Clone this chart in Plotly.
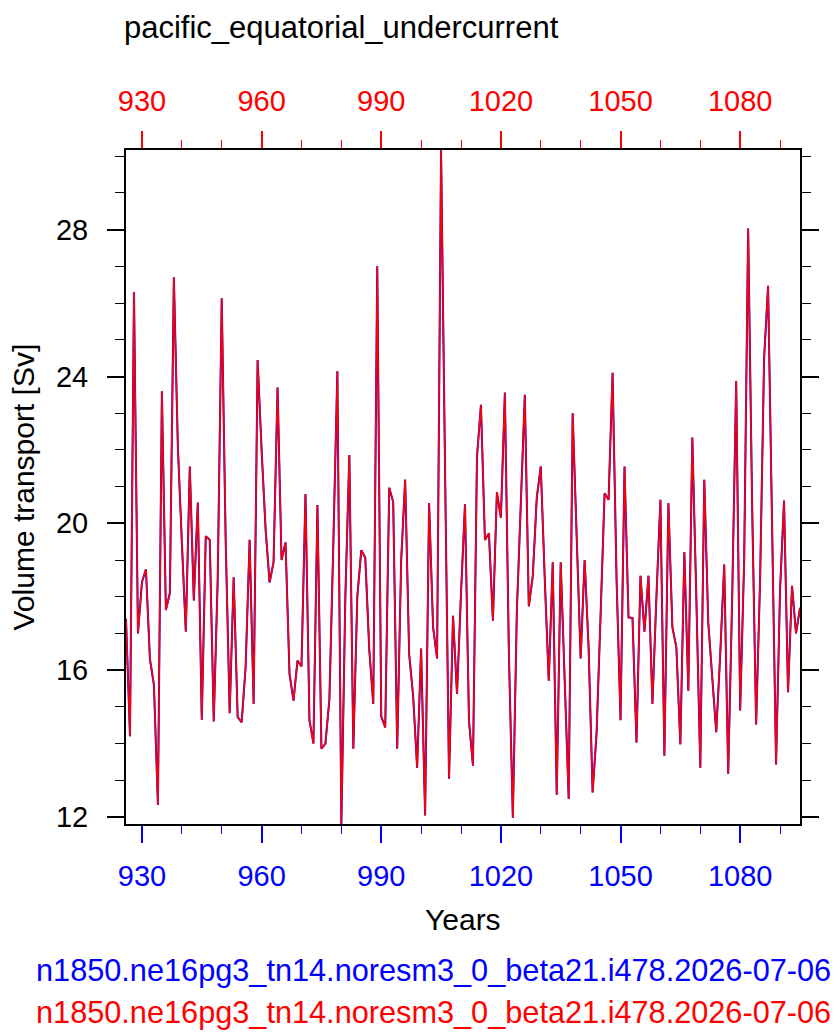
import plotly.graph_objects as go

# yearly volume transport
years = list(range(926, 1096))
volume_transport = [
    17.4, 14.2, 26.3, 17.0, 18.4, 18.75, 16.3, 15.6, 12.33, 23.6,
    17.64, 18.1, 26.7, 22.1, 19.5, 17.05, 21.55, 17.9, 20.57, 14.65,
    19.65, 19.55, 14.6, 18.5, 26.13, 19.5, 14.83, 18.53, 14.72, 14.58,
    16.1, 19.55, 15.08, 24.45, 22.0, 19.85, 18.39, 18.94, 23.7, 19.0,
    19.48, 15.9, 15.17, 16.26, 16.1, 20.8, 14.64, 14.0, 20.5, 13.86,
    14.0, 15.2, 19.5, 24.14, 11.81, 18.0, 21.86, 13.86, 18.0, 19.27,
    19.06, 16.56, 15.08, 27.0, 14.74, 14.44, 20.97, 20.58, 13.86, 19.0,
    21.19, 16.44, 15.29, 13.34, 16.59, 12.04, 20.55, 17.17, 16.32, 30.17,
    21.5, 13.04, 17.48, 15.35, 18.1, 20.52, 14.62, 13.4, 21.8, 23.23,
    19.55, 19.73, 17.35, 20.85, 20.15, 23.56, 16.5, 11.98, 17.6, 20.5,
    23.5, 17.74, 18.57, 20.7, 21.55, 18.5, 15.71, 18.94, 12.61, 18.94,
    15.4, 12.49, 23.0, 19.5, 16.32, 19.0, 16.6, 12.67, 14.3, 17.5,
    20.82, 20.64, 24.1, 18.5, 14.64, 21.55, 17.44, 17.42, 14.03, 18.57,
    17.05, 18.57, 15.08, 18.0, 20.64, 13.67, 20.55, 17.17, 16.62, 13.98,
    19.22, 15.44, 22.34, 18.0, 13.34, 21.19, 17.3, 15.8, 14.31, 16.44,
    18.88, 13.18, 18.0, 23.88, 14.9, 19.0, 28.03, 20.5, 14.52, 18.5,
    24.5, 26.47, 20.0, 13.43, 18.2, 20.62, 15.4, 18.3, 17.0, 17.7,
]
case_name = "n1850.ne16pg3_tn14.noresm3_0_beta21.i478.2026-07-06"
title = "pacific_equatorial_undercurrent"

# page body has an 8px margin, so the figure is a bit smaller than the window
W, H = 832, 1028
L, R, T, B = 118, 40, 142, 212
FONT = "Liberation Sans"


def py(ypx):
    # pixel row (figure coords) -> paper y
    return (H - B - ypx) / (H - T - B)


def px_(xpx):
    return (xpx - L) / (W - L - R)


fig = go.Figure()
fig.add_trace(go.Scatter(x=years, y=volume_transport, mode="lines",
                         line=dict(color="blue", width=2.0),
                         xaxis="x", yaxis="y", showlegend=False))
fig.add_trace(go.Scatter(x=years, y=volume_transport, mode="lines",
                         line=dict(color="red", width=1.6),
                         xaxis="x2", yaxis="y", showlegend=False))

xr = [926, 1095]
fig.update_layout(
    width=W, height=H,
    margin=dict(l=L, r=R, t=T, b=B),
    paper_bgcolor="white", plot_bgcolor="white",
    font=dict(family=FONT, color="black"),
    xaxis=dict(range=xr, tick0=930, dtick=30, ticks="outside", ticklen=17,
               tickwidth=1.5, tickcolor="blue", ticklabelstandoff=8,
               tickfont=dict(size=29, color="blue", family=FONT),
               minor=dict(dtick=10, tick0=930, ticks="outside", ticklen=8,
                          tickwidth=1.2, tickcolor="blue"),
               showline=True, linecolor="black", linewidth=2,
               showgrid=False, zeroline=False),
    xaxis2=dict(range=xr, overlaying="x", side="top", tick0=930, dtick=30,
                ticks="outside", ticklen=17, tickwidth=1.5, tickcolor="red",
                ticklabelstandoff=8,
                tickfont=dict(size=29, color="red", family=FONT),
                minor=dict(dtick=10, tick0=930, ticks="outside", ticklen=8,
                           tickwidth=1.2, tickcolor="red"),
                showline=True, linecolor="black", linewidth=2,
                showgrid=False, zeroline=False),
    yaxis=dict(range=[11.81, 30.17], tick0=12, dtick=4, ticks="outside",
               ticklen=17, tickwidth=1.5, tickcolor="black",
               ticklabelstandoff=13,
               tickfont=dict(size=29, color="black", family=FONT),
               minor=dict(dtick=1, tick0=12, ticks="outside", ticklen=9,
                          tickwidth=1.2, tickcolor="black"),
               showline=True, linecolor="black", linewidth=2, mirror="ticks",
               showgrid=False, zeroline=False),
)

ann = dict(xref="paper", yref="paper", showarrow=False)
fig.add_annotation(text=title, x=px_(114), y=py(0), xanchor="left",
                   yanchor="top", font=dict(size=31, color="black"), **ann)
fig.add_annotation(text="Years", x=0.5, y=py(911), xanchor="center",
                   yanchor="middle", font=dict(size=30, color="black"), **ann)
fig.add_annotation(text="Volume transport [Sv]", x=px_(-4), y=0.5,
                   textangle=-90, xanchor="left", yanchor="middle",
                   font=dict(size=30, color="black"), **ann)
fig.add_annotation(text=case_name, x=px_(26), y=py(962), xanchor="left",
                   yanchor="middle", font=dict(size=30.7, color="blue"), **ann)
fig.add_annotation(text=case_name, x=px_(26), y=py(1004), xanchor="left",
                   yanchor="middle", font=dict(size=30.7, color="red"), **ann)

fig.write_html("out.html")
